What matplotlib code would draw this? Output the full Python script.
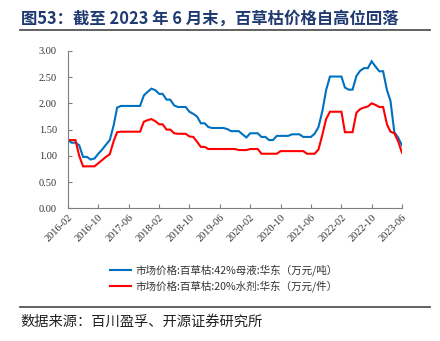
import matplotlib
matplotlib.use("Agg")
import matplotlib.pyplot as plt
import matplotlib.lines as mlines
import pandas as pd

plt.rcParams['font.family'] = ['Noto Sans CJK SC', 'DejaVu Sans']

# Monthly prices, 2016-02 .. 2023-06
months = pd.date_range('2016-02-01', '2023-06-01', freq='MS')

paraquat_42 = [
    1.30, 1.25, 1.25, 1.20, 0.98, 0.98, 0.93, 0.95, 1.04, 1.12,
    1.21, 1.30, 1.58, 1.92, 1.95, 1.95, 1.95, 1.95, 1.95, 1.95,
    2.15, 2.22, 2.28, 2.25, 2.18, 2.18, 2.07, 2.07, 1.96, 1.93,
    1.93, 1.93, 1.84, 1.80, 1.75, 1.62, 1.62, 1.55, 1.53, 1.53,
    1.53, 1.53, 1.51, 1.47, 1.47, 1.47, 1.41, 1.35, 1.43, 1.43,
    1.43, 1.36, 1.36, 1.30, 1.30, 1.38, 1.38, 1.38, 1.38, 1.41,
    1.41, 1.41, 1.36, 1.36, 1.36, 1.42, 1.55, 1.85, 2.25, 2.51,
    2.51, 2.51, 2.51, 2.30, 2.26, 2.26, 2.52, 2.62, 2.67, 2.67,
    2.80, 2.70, 2.61, 2.61, 2.25, 2.05, 1.45, 1.35, 1.20,
]

paraquat_20 = [
    1.30, 1.30, 1.30, 1.00, 0.80, 0.80, 0.80, 0.80, 0.86, 0.92,
    0.98, 1.03, 1.28, 1.45, 1.46, 1.46, 1.46, 1.46, 1.46, 1.46,
    1.65, 1.68, 1.70, 1.66, 1.60, 1.60, 1.50, 1.50, 1.43, 1.42,
    1.42, 1.42, 1.37, 1.36, 1.27, 1.17, 1.17, 1.13, 1.13, 1.13,
    1.13, 1.13, 1.13, 1.13, 1.13, 1.11, 1.11, 1.11, 1.13, 1.13,
    1.13, 1.04, 1.04, 1.04, 1.04, 1.04, 1.09, 1.09, 1.09, 1.09,
    1.09, 1.09, 1.09, 1.04, 1.04, 1.04, 1.12, 1.40, 1.70, 1.84,
    1.84, 1.84, 1.84, 1.45, 1.45, 1.45, 1.82, 1.89, 1.92, 1.94,
    2.00, 1.97, 1.93, 1.93, 1.60, 1.46, 1.43, 1.28, 1.06,
]

tick_labels = ['2016-02', '2016-10', '2017-06', '2018-02', '2018-10', '2019-06',
               '2020-02', '2020-10', '2021-06', '2022-02', '2022-10', '2023-06']
y_ticks = [0.0, 0.5, 1.0, 1.5, 2.0, 2.5, 3.0]

label_42 = '市场价格:百草枯:42%母液:华东（万元/吨）'
label_20 = '市场价格:百草枯:20%水剂:华东（万元/件）'
title = '图53：截至 2023 年 6 月末，百草枯价格自高位回落'
source = '数据来源：百川盈孚、开源证券研究所'

blue = '#0070C0'
red = '#FF0000'
axis_grey = '#7F7F7F'
text_grey = '#333333'

fig = plt.figure(figsize=(4.40, 3.41), dpi=100)
ax = fig.add_axes([0.1545, 0.389, 0.759, 0.462])

ax.plot(months, paraquat_42, color=blue, lw=1.5, solid_joinstyle='miter')
ax.plot(months, paraquat_20, color=red, lw=1.5, solid_joinstyle='miter')

ax.set_xlim(months[0], months[-1])
ax.set_ylim(0, 3.0)

ax.set_yticks(y_ticks)
ax.set_yticklabels([f'{v:.2f}' for v in y_ticks], family='Liberation Serif',
                   fontsize=7.5, color=text_grey)
ax.set_xticks(pd.to_datetime(tick_labels))
ax.set_xticklabels(tick_labels, family='Liberation Serif', fontsize=7.5,
                   color=text_grey, rotation=45, ha='right',
                   rotation_mode='anchor')

for side in ('top', 'right'):
    ax.spines[side].set_visible(False)
for side in ('left', 'bottom'):
    ax.spines[side].set_color(axis_grey)
    ax.spines[side].set_linewidth(0.8)
ax.tick_params(axis='both', direction='in', length=3, width=0.8,
               color=axis_grey, pad=3)
ax.tick_params(axis='y', pad=8)

# legend entries stacked under the plot
handles = [mlines.Line2D([], [], color=blue, lw=1.5),
           mlines.Line2D([], [], color=red, lw=1.5)]
fig.legend(handles, [label_42, label_20], loc='center',
           bbox_to_anchor=(0.508, 0.184), frameon=False, fontsize=7.6,
           handlelength=2.0, handletextpad=0.4, labelspacing=0.45,
           labelcolor=text_grey)

# header and footer
fig.text(0.047, 0.945, title, fontsize=11.8, fontweight='bold',
         color='#1F3A70', ha='left', va='center')
fig.add_artist(mlines.Line2D([0.045, 0.978], [0.912, 0.912],
                             color='#555555', lw=1.3))
fig.add_artist(mlines.Line2D([0.045, 0.978], [0.101, 0.101],
                             color='#555555', lw=1.3))
fig.text(0.047, 0.057, source, fontsize=10.3, color='#222222',
         ha='left', va='center')

fig.savefig('out.png', dpi=100)
